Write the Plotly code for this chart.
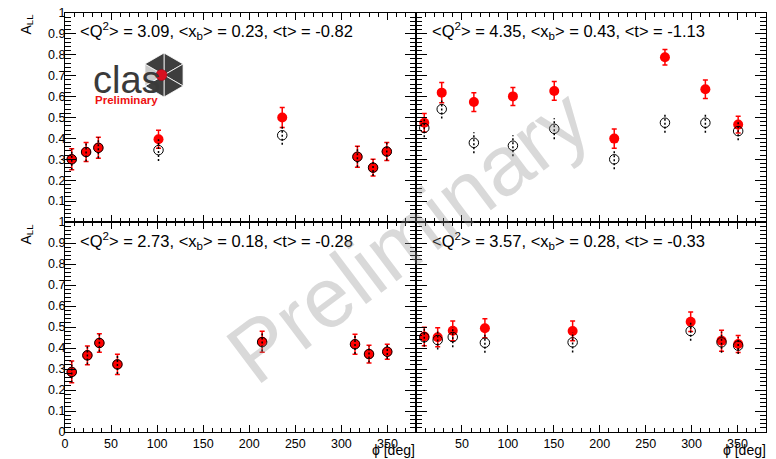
import math
import plotly.graph_objects as go

# ---------------- data ----------------
phi_tl = [7.3, 22.9, 36.2, 101.5, 235.8, 317.4, 334.4, 349.3]
red_tl = [0.300, 0.335, 0.355, 0.396, 0.500, 0.312, 0.260, 0.337]
rerr_tl = [0.050, 0.045, 0.050, 0.043, 0.048, 0.050, 0.040, 0.043]
blk_tl = [0.300, 0.335, 0.355, 0.344, 0.415, 0.312, 0.260, 0.337]
berr_tl = [0.050, 0.045, 0.050, 0.052, 0.045, 0.050, 0.040, 0.043]

phi_tr = [9.0, 28.0, 63.0, 105.5, 150.5, 215.8, 271.0, 315.0, 350.7]
red_tr = [0.475, 0.619, 0.574, 0.601, 0.627, 0.399, 0.788, 0.635, 0.466]
rerr_tr = [0.044, 0.048, 0.045, 0.043, 0.045, 0.046, 0.037, 0.044, 0.040]
blk_tr = [0.450, 0.540, 0.379, 0.365, 0.446, 0.300, 0.475, 0.475, 0.435]
berr_tr = [0.045, 0.045, 0.050, 0.050, 0.050, 0.048, 0.048, 0.048, 0.044]

phi_bl = [7.3, 24.3, 37.3, 56.9, 214.0, 314.8, 330.0, 349.8]
red_bl = [0.286, 0.365, 0.424, 0.322, 0.430, 0.418, 0.371, 0.382]
rerr_bl = [0.052, 0.045, 0.044, 0.048, 0.050, 0.048, 0.042, 0.036]
blk_bl = [0.286, 0.365, 0.424, 0.322, 0.428, 0.418, 0.371, 0.382]
berr_bl = [0.050, 0.043, 0.042, 0.046, 0.045, 0.046, 0.040, 0.034]

phi_br = [9.0, 23.6, 40.0, 75.0, 170.5, 299.0, 332.6, 350.7]
red_br = [0.455, 0.451, 0.482, 0.494, 0.481, 0.525, 0.435, 0.419]
rerr_br = [0.044, 0.045, 0.047, 0.045, 0.047, 0.046, 0.050, 0.040]
blk_br = [0.451, 0.438, 0.452, 0.425, 0.427, 0.481, 0.427, 0.411]
berr_br = [0.045, 0.045, 0.048, 0.048, 0.048, 0.046, 0.050, 0.040]

labels = [
    "&lt;Q<sup>2</sup>&gt; = 3.09, &lt;x<sub>b</sub>&gt; = 0.23, &lt;t&gt; = -0.82",
    "&lt;Q<sup>2</sup>&gt; = 4.35, &lt;x<sub>b</sub>&gt; = 0.43, &lt;t&gt; = -1.13",
    "&lt;Q<sup>2</sup>&gt; = 2.73, &lt;x<sub>b</sub>&gt; = 0.18, &lt;t&gt; = -0.28",
    "&lt;Q<sup>2</sup>&gt; = 3.57, &lt;x<sub>b</sub>&gt; = 0.28, &lt;t&gt; = -0.33",
]

x_ticks = [0, 50, 100, 150, 200, 250, 300, 350]
y_ticks = [0, 0.1, 0.2, 0.3, 0.4, 0.5, 0.6, 0.7, 0.8, 0.9, 1.0]
y_ticktext = ["0", "0.1", "0.2", "0.3", "0.4", "0.5", "0.6", "0.7", "0.8", "0.9", "1"]

# ---------------- geometry ----------------
W, H = 776, 459
ML, MR, MT, MB = 65, 10, 13, 27
PW, PH = W - ML - MR, H - MT - MB
XSPLIT = 416
YSPLIT = 222


def fx(px):
    return (px - ML) / PW


def fy(py):
    return (H - MB - py) / PH


FONT = "Liberation Sans, Arial, Helvetica, sans-serif"

fig = go.Figure()

panels = [
    ("x", "y", phi_tl, red_tl, rerr_tl, blk_tl, berr_tl),
    ("x2", "y2", phi_tr, red_tr, rerr_tr, blk_tr, berr_tr),
    ("x3", "y3", phi_bl, red_bl, rerr_bl, blk_bl, berr_bl),
    ("x4", "y4", phi_br, red_br, rerr_br, blk_br, berr_br),
]

for xa, ya, phi, red, rerr, blk, berr in panels:
    fig.add_trace(go.Scatter(
        x=phi, y=red, xaxis=xa, yaxis=ya, mode="markers",
        marker=dict(symbol="circle", size=10, color="#ff0000", line=dict(width=0)),
        error_y=dict(type="data", array=rerr, visible=True, color="#ff0000",
                     thickness=1.5, width=2.5),
        showlegend=False, hoverinfo="skip"))
    ex, ey = [], []
    for xv, yv, ev in zip(phi, blk, berr):
        ex += [xv, xv, None]
        ey += [yv - ev, yv + ev, None]
    fig.add_trace(go.Scatter(
        x=ex, y=ey, xaxis=xa, yaxis=ya, mode="lines",
        line=dict(color="black", width=1.5, dash="2px,2px"),
        showlegend=False, hoverinfo="skip"))
    fig.add_trace(go.Scatter(
        x=phi, y=blk, xaxis=xa, yaxis=ya, mode="markers",
        marker=dict(symbol="circle-open", size=9.5, color="black", line=dict(width=1, color="black")),
        showlegend=False, hoverinfo="skip"))


def xaxis_cfg(domain, show_labels, show_zero):
    txt = [str(v) for v in x_ticks]
    if not show_zero:
        txt[0] = ""
    return dict(
        domain=domain, range=[0, 381], showgrid=False, zeroline=False,
        showline=True, linecolor="black", linewidth=1, mirror="ticks",
        ticks="inside", ticklen=7, tickwidth=1, tickcolor="black",
        tickmode="array", tickvals=x_ticks, ticktext=txt,
        showticklabels=show_labels, automargin=False,
        tickfont=dict(family=FONT, size=12.5, color="black"),
        minor=dict(ticks="inside", ticklen=4, tickwidth=1, tickcolor="black",
                   tickmode="linear", tick0=0, dtick=10, showgrid=False),
    )


def yaxis_cfg(domain, show_labels, show_zero):
    txt = list(y_ticktext)
    if not show_zero:
        txt[0] = ""
    return dict(
        domain=domain, range=[0, 1], showgrid=False, zeroline=False,
        showline=True, linecolor="black", linewidth=1, mirror="ticks",
        ticks="inside", ticklen=11, tickwidth=1, tickcolor="black",
        tickmode="array", tickvals=y_ticks, ticktext=txt,
        showticklabels=show_labels, automargin=False,
        ticklabelstandoff=-4,
        tickfont=dict(family=FONT, size=12.5, color="black"),
        minor=dict(ticks="inside", ticklen=6, tickwidth=1, tickcolor="black",
                   tickmode="linear", tick0=0, dtick=0.02, showgrid=False),
    )


xl = [0, fx(XSPLIT)]
xr = [fx(XSPLIT), 1]
yt = [fy(YSPLIT), 1]
yb = [0, fy(YSPLIT)]

fig.update_layout(
    width=W, height=H,
    margin=dict(l=ML, r=MR, t=MT, b=MB),
    paper_bgcolor="white", plot_bgcolor="white",
    font=dict(family=FONT, color="black"),
    xaxis=dict(xaxis_cfg(xl, False, True), anchor="y"),
    yaxis=dict(yaxis_cfg(yt, True, False), anchor="x"),
    xaxis2=dict(xaxis_cfg(xr, False, True), anchor="y2"),
    yaxis2=dict(yaxis_cfg(yt, False, False), anchor="x2"),
    xaxis3=dict(xaxis_cfg(xl, True, True), anchor="y3"),
    yaxis3=dict(yaxis_cfg(yb, True, True), anchor="x3"),
    xaxis4=dict(xaxis_cfg(xr, True, False), anchor="y4"),
    yaxis4=dict(yaxis_cfg(yb, False, False), anchor="x4"),
)

ann = []
# panel labels
for (lx, ly), txt in zip([(78, 31), (430, 31), (78, 241), (430, 241)], labels):
    ann.append(dict(x=fx(lx), y=fy(ly), xref="paper", yref="paper", text=txt,
                    showarrow=False, xanchor="left", yanchor="middle",
                    font=dict(family=FONT, size=16.5, color="black")))
# y titles
for ty in [12, 222]:
    ann.append(dict(x=fx(26), y=fy(ty), xref="paper", yref="paper",
                    text="A<sub>LL</sub>", textangle=-90, showarrow=False,
                    xanchor="center", yanchor="top",
                    font=dict(family=FONT, size=14, color="black")))
# x titles
for tx in [417, 768]:
    ann.append(dict(x=fx(tx), y=fy(450), xref="paper", yref="paper",
                    text="ϕ [deg]", showarrow=False, xanchor="right", yanchor="middle",
                    font=dict(family=FONT, size=14, color="black")))
# watermark
ann.append(dict(x=fx(408), y=fy(235), xref="paper", yref="paper", text="Preliminary",
                textangle=-37, showarrow=False, xanchor="center", yanchor="middle",
                font=dict(family=FONT, size=85, color="rgba(140,140,140,0.33)")))
# CLAS logo text
ann.append(dict(x=fx(127), y=fy(80), xref="paper", yref="paper", text="clas",
                showarrow=False, xanchor="center", yanchor="middle",
                font=dict(family=FONT, size=38, color="#3a3a3a")))
ann.append(dict(x=fx(126), y=fy(100), xref="paper", yref="paper", text="<b>Preliminary</b>",
                showarrow=False, xanchor="center", yanchor="middle",
                font=dict(family=FONT, size=11.5, color="#ee1111")))

# CLAS hexagon logo shapes
cx, cy, R = 164, 75, 22
verts = []
for a in [90, 30, -30, -90, -150, 150]:
    verts.append((cx + R * math.cos(math.radians(a)), cy - R * math.sin(math.radians(a))))
shapes = []
for i in range(6):
    v1 = verts[i]
    v2 = verts[(i + 1) % 6]
    col = "#c8c8c8" if i == 4 else "#3e3e3e"
    path = "M {:.5f},{:.5f} L {:.5f},{:.5f} L {:.5f},{:.5f} Z".format(
        fx(cx), fy(cy), fx(v1[0]), fy(v1[1]), fx(v2[0]), fy(v2[1]))
    shapes.append(dict(type="path", path=path, xref="paper", yref="paper",
                       fillcolor=col, line=dict(color="white", width=0.8), layer="above"))
shapes.append(dict(type="circle", xref="paper", yref="paper",
                   x0=fx(156), x1=fx(167), y0=fy(80.5), y1=fy(69.5),
                   fillcolor="#d81020", line=dict(color="#a00010", width=0.5), layer="above"))

fig.update_layout(annotations=ann, shapes=shapes)

fig.write_html("out.html", config={"displayModeBar": False},
               post_script="document.body.style.margin='0px';document.body.style.overflow='hidden';")
